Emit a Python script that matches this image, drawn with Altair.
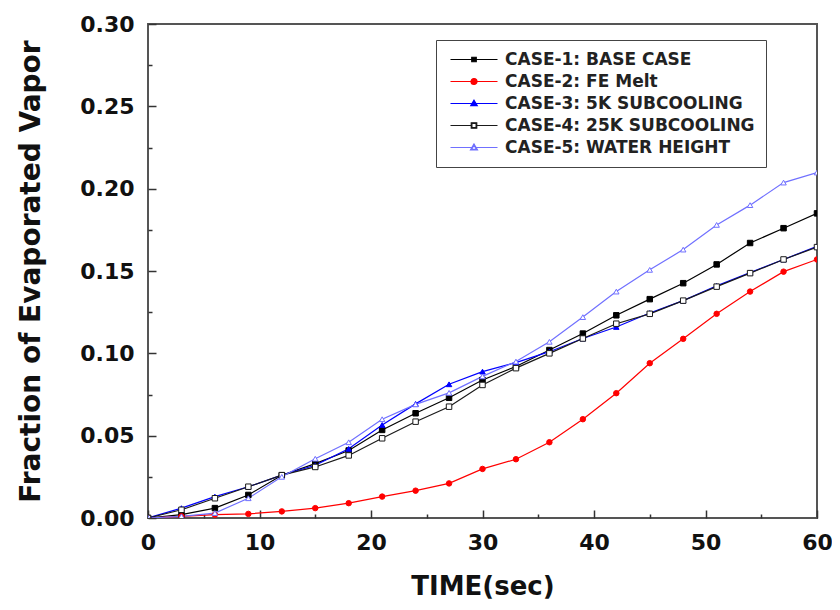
import altair as alt
import pandas as pd

# ---------------- data ----------------
TIME = [0, 3, 6, 9, 12, 15, 18, 21, 24, 27, 30, 33, 36, 39, 42, 45, 48, 51, 54, 57, 60]

CASES = [
    "CASE-1: BASE CASE",
    "CASE-2: FE Melt",
    "CASE-3: 5K SUBCOOLING",
    "CASE-4: 25K SUBCOOLING",
    "CASE-5: WATER HEIGHT",
]
MARKERS = [c + " (marker)" for c in CASES]

CASE1 = [0, 0.002, 0.006, 0.014, 0.026, 0.033, 0.041, 0.0535, 0.0636, 0.073, 0.0838,
         0.092, 0.102, 0.112, 0.1231, 0.1329, 0.1426, 0.154, 0.167, 0.176, 0.185]
CASE2 = [0, 0.001, 0.002, 0.0025, 0.004, 0.006, 0.009, 0.013, 0.0166, 0.021, 0.0298,
         0.0357, 0.046, 0.060, 0.0758, 0.094, 0.1088, 0.124, 0.1375, 0.1496, 0.157]
CASE3 = [0, 0.006, 0.013, 0.019, 0.026, 0.032, 0.042, 0.0565, 0.0693, 0.0812, 0.0889,
         0.0944, 0.101, 0.109, 0.116, 0.1245, 0.132, 0.141, 0.149, 0.157, 0.165]
CASE4 = [0, 0.005, 0.012, 0.019, 0.026, 0.031, 0.038, 0.0484, 0.0585, 0.0676, 0.0808,
         0.091, 0.100, 0.109, 0.118, 0.124, 0.132, 0.1405, 0.1487, 0.157, 0.1645]
CASE5 = [0, 0.001, 0.003, 0.012, 0.025, 0.036, 0.046, 0.060, 0.069, 0.076, 0.086,
         0.095, 0.107, 0.122, 0.1375, 0.1507, 0.163, 0.178, 0.190, 0.2037, 0.2098]

X_TICKS = [0, 10, 20, 30, 40, 50, 60]
X_MINOR = [5, 15, 25, 35, 45, 55]
Y_TICKS = [0.0, 0.05, 0.10, 0.15, 0.20, 0.25, 0.30]
Y_MINOR = [0.025, 0.075, 0.125, 0.175, 0.225, 0.275]

# ---------------- styles ----------------
COLORS = ["#000000", "#ff0000", "#0000ff", "#1a1a1a", "#7070ff"]
FILLS = ["#000000", "#ff0000", "#0000ff", "#ffffff", "#ffffff"]
SHAPES = ["square", "circle", "triangle-up", "square", "triangle-up"]

# legend glyphs: a line segment with the marker on it
SQ = "M3.25,-0.45H4.15V0.45H3.25Z"
SQ_FILL = "M3.25,-0.2H4.15M3.25,0.2H4.15"
CIRC = "M3.1,0A0.6,0.6,0,1,1,4.3,0A0.6,0.6,0,1,1,3.1,0Z"
CIRC_FILL = "M3.134,-0.2H4.266M3.134,0.2H4.266M3.253,-0.4H4.147M3.253,0.4H4.147"
TRI = "M3.7,-0.65L4.35,0.45L3.05,0.45Z"
TRI_FILL = "M3.552,-0.4H3.848M3.434,-0.2H3.966M3.198,0.2H4.202M3.08,0.4H4.32"
# open markers: outer outline + reversed inner outline (a hole, whatever the fill)
SQ_OPEN = "M3.15,-0.55H4.25V0.55H3.15ZM3.28,-0.42V0.42H4.12V-0.42Z"
TRI_OPEN = "M3.7,-0.7L4.4,0.5L3.0,0.5ZM3.7,-0.45L3.2,0.38L4.2,0.38Z"
LEGEND_PATHS = [
    "M-1,0H8.4" + SQ + SQ_FILL,
    "M-1,0H8.4" + CIRC + CIRC_FILL,
    "M-1,0H8.4" + TRI + TRI_FILL,
    "M-1,0H3.15M4.25,0H8.4" + SQ_OPEN,
    "M-1,0H3.29M4.11,0H8.4" + TRI_OPEN,
]

rows = []
for name, mk, vals in zip(CASES, MARKERS, [CASE1, CASE2, CASE3, CASE4, CASE5]):
    for t, v in zip(TIME, vals):
        rows.append({"t": t, "v": v, "case": name, "marker": mk})
df = pd.DataFrame(rows)

FONT = "DejaVu Sans"
xscale = alt.Scale(domain=[0, 60], nice=False, zero=False)
yscale = alt.Scale(domain=[0, 0.30], nice=False, zero=False)
shape_scale = alt.Scale(domain=CASES + MARKERS, range=LEGEND_PATHS + SHAPES)
color_scale = alt.Scale(domain=CASES + MARKERS, range=COLORS + COLORS)

major_x = alt.Axis(orient="bottom", values=X_TICKS, format="d", tickSize=8, offset=-8,
                   domain=False, grid=False, labelPadding=14, title="TIME(sec)",
                   titlePadding=20, titleFontSize=26, tickWidth=1.5, tickColor="#333",
                   labelFlush=False)
major_y = alt.Axis(orient="left", values=Y_TICKS, format=".2f", tickSize=8, offset=-8,
                   domain=False, grid=False, labelPadding=14,
                   title="Fraction of Evaporated Vapor", titlePadding=34,
                   titleFontSize=28, tickWidth=1.5, tickColor="#333")
minor_x = alt.Axis(orient="bottom", values=X_MINOR, labels=False, tickSize=4, offset=-4,
                   domain=False, grid=False, title=None, tickWidth=1.5, tickColor="#333")
minor_y = alt.Axis(orient="left", values=Y_MINOR, labels=False, tickSize=4, offset=-4,
                   domain=False, grid=False, title=None, tickWidth=1.5, tickColor="#333")

legend = alt.Legend(
    title=None, orient="none", legendX=288, legendY=16, values=CASES,
    labelFont=FONT, labelFontSize=17, labelFontWeight="bold", labelColor="#222",
    labelLimit=400, symbolSize=100, symbolStrokeWidth=1.2, symbolOpacity=1,
    labelOffset=41, rowPadding=4, padding=11,
    strokeColor="#444", fillColor="white",
)

base = alt.Chart(df)
lines = base.mark_line(strokeWidth=1.2, clip=True).encode(
    x=alt.X("t:Q", scale=xscale, axis=minor_x),
    y=alt.Y("v:Q", scale=yscale, axis=minor_y),
    stroke=alt.Stroke("case:N", scale=alt.Scale(domain=CASES, range=COLORS), legend=None),
)
points = base.mark_point(size=30, strokeWidth=1, opacity=1, clip=True).encode(
    x=alt.X("t:Q", scale=xscale, axis=major_x),
    y=alt.Y("v:Q", scale=yscale, axis=major_y),
    shape=alt.Shape("marker:N", scale=shape_scale, legend=legend),
    stroke=alt.Stroke("case:N", scale=alt.Scale(domain=CASES, range=COLORS), legend=None),
    fill=alt.Fill("case:N", scale=alt.Scale(domain=CASES, range=FILLS), legend=None),
)
# invisible layer that only carries the legend (line + marker glyphs)
legend_layer = base.mark_point(opacity=0, filled=False).encode(
    x=alt.X("t:Q", scale=xscale, axis=None),
    y=alt.Y("v:Q", scale=yscale, axis=None),
    color=alt.Color("case:N", scale=color_scale, legend=legend),
    shape=alt.Shape("case:N", scale=shape_scale, legend=legend),
)

chart = (
    alt.layer(lines, points, legend_layer)
    .resolve_axis(x="independent", y="independent")
    .properties(
        width=669, height=494,
        autosize=alt.AutoSizeParams(type="none"),
        padding={"left": 140, "top": 16, "right": 15, "bottom": 84},
        background="white",
    )
    .configure_view(stroke="#555", strokeWidth=2)
    .configure_axis(labelFont=FONT, labelFontSize=22, labelFontWeight="bold",
                    labelColor="#111", titleFont=FONT, titleFontWeight="bold",
                    titleColor="#111")
)

chart.save("out.html", embed_options={"renderer": "svg", "actions": False})
